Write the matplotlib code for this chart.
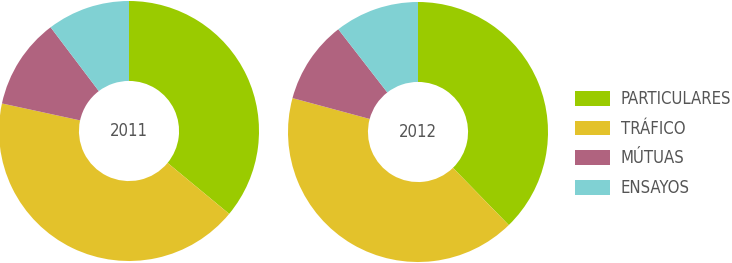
import matplotlib
matplotlib.use('Agg')
import matplotlib.pyplot as plt
from matplotlib.patches import Patch

plt.rcParams['font.family'] = ['DejaVu Sans']
plt.rcParams['font.stretch'] = 'condensed'

categories = ['PARTICULARES', 'TRÁFICO', 'MÚTUAS', 'ENSAYOS']
colors = ['#9acb00', '#e3c22b', '#b0637f', '#80d1d3']
years = ['2011', '2012']
values_2011 = [36.0, 42.4, 11.3, 10.3]
values_2012 = [37.7, 41.5, 10.3, 10.5]

W, H = 732, 263
fig = plt.figure(figsize=(W / 100, H / 100), dpi=100)


def donut(cx, cy, r, vals, label):
    ax = fig.add_axes([(cx - r) / W, (H - cy - r) / H, 2 * r / W, 2 * r / H])
    ax.pie(vals, colors=colors, startangle=90, counterclock=False, radius=1,
           wedgeprops=dict(width=0.615, linewidth=0))
    ax.set_xlim(-1, 1)
    ax.set_ylim(-1, 1)
    ax.set_aspect('equal')
    ax.axis('off')
    ax.text(0, 0, label, ha='center', va='center', fontsize=12, color='#555555')


donut(129, 131, 130, values_2011, years[0])
donut(418, 132, 130, values_2012, years[1])

handles = [Patch(facecolor=c, edgecolor='none') for c in colors]
fig.legend(handles, categories, loc='upper left',
           bbox_to_anchor=(575 / W, 1 - 90 / H), frameon=False,
           fontsize=12, labelcolor='#555555',
           handlelength=2.1, handleheight=0.96, handletextpad=0.66,
           labelspacing=0.7, borderpad=0, borderaxespad=0)

fig.savefig('out.png', dpi=100)
